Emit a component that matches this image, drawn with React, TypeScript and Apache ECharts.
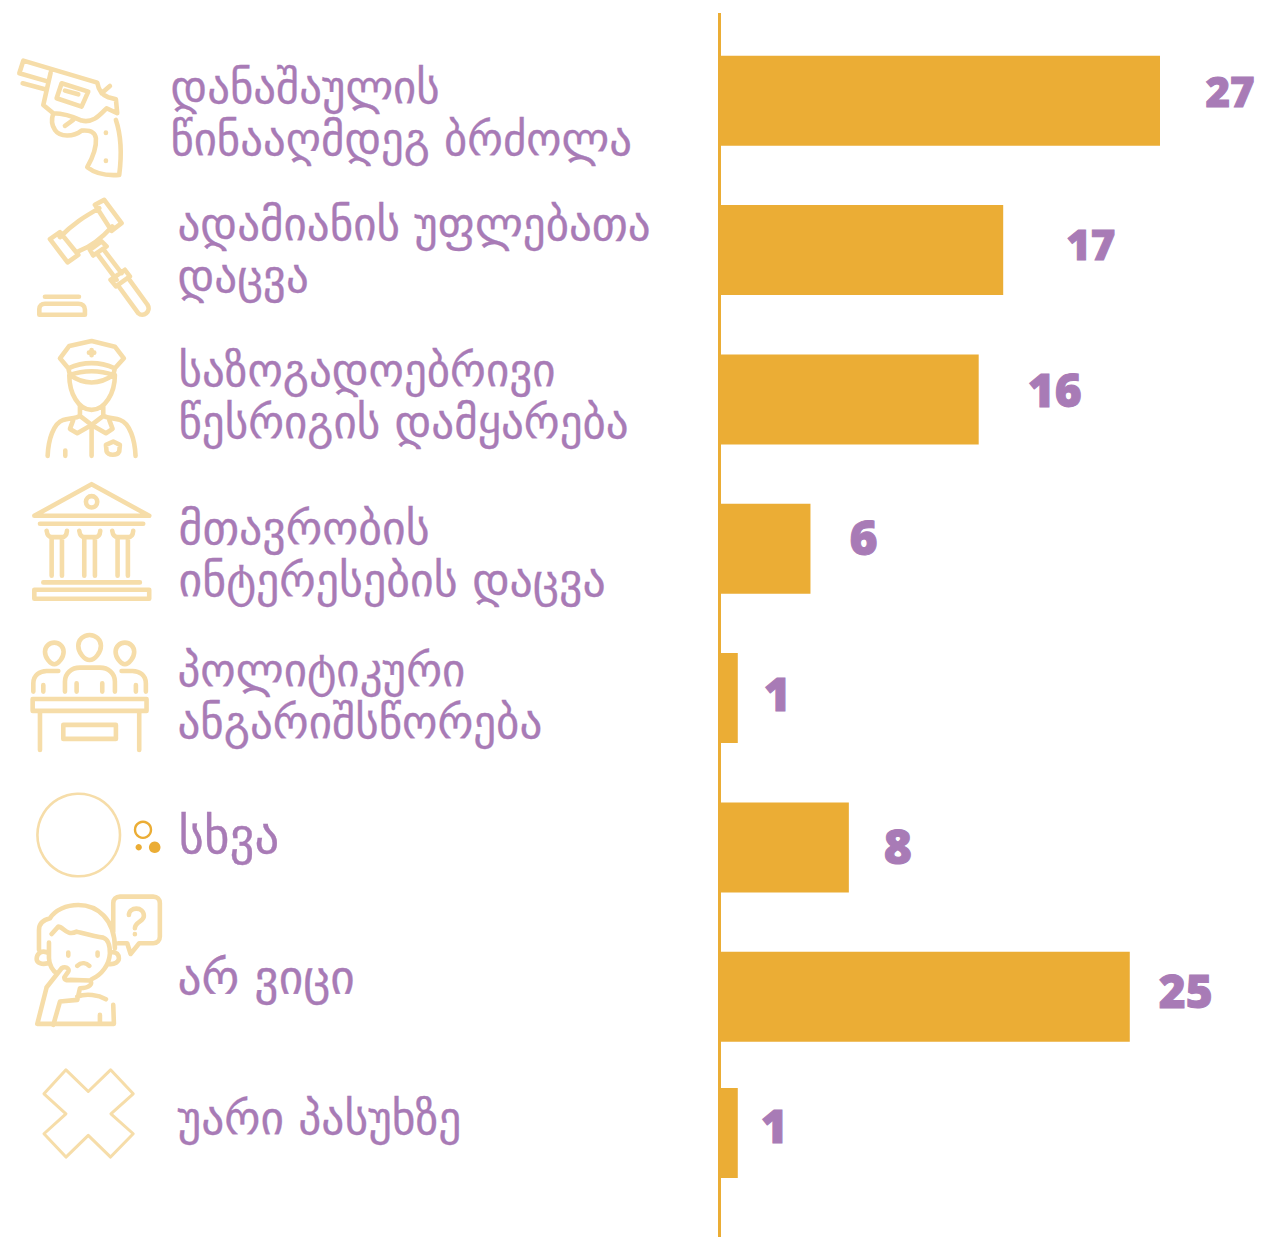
import React, { useEffect, useRef } from "react";
import * as echarts from "echarts";

const categories = [
  "დანაშაულის\nწინააღმდეგ ბრძოლა",
  "ადამიანის უფლებათა\nდაცვა",
  "საზოგადოებრივი\nწესრიგის დამყარება",
  "მთავრობის\nინტერესების დაცვა",
  "პოლიტიკური\nანგარიშსწორება",
  "სხვა",
  "არ ვიცი",
  "უარი პასუხზე",
];
const barValues = [27, 17.4, 15.9, 5.6, 1.15, 7.95, 25.15, 1.15];
const valueLabels = ["27", "17", "16", "6", "1", "8", "25", "1"];

const BAR = "#EBAD35";
const PURPLE = "#A87BB6";
const ICON = "#F6DDA9";

// text placement and size, kept apart from the data
const labelX = [170.5, 177.5, 178.5, 178.5, 177.5, 178.5, 177.5, 177.5];
const labelY = [113, 250, 396, 554, 696, 836, 977, 1118];
const labelSize = [44.8, 45, 45, 45.8, 45, 48.8, 47.4, 45.4];
const valueSize = [42, 42, 46, 48, 46, 48, 46, 46];
const valueOffset: [number, number][] = [
  [45.5, -10], [63, -7], [49, -10], [39, -12], [26, -5], [35, -2], [29, -7], [23, -8],
];

const ICON_PATHS: Record<string, string> = {
  gun: "M28,70 L40,32 L262,98 C265,115 275,135 295,142 L318,148 L322,190 L290,175 C270,195 250,220 215,212 C190,200 160,190 130,190 L100,165 L122,68 M38,100 L105,118 M28,70 L115,95 M155,100 L235,125 L215,170 L140,145 Z M165,122 L205,133 M275,130 L300,108 M318,210 C335,260 335,320 328,375 C290,378 255,370 232,352 C250,320 260,290 258,265 C255,245 240,240 215,242 C190,262 150,262 135,240 C122,222 125,205 130,190 M165,228 L190,210 M288,248 L288,249 M288,332 L288,333",
  gavel: "M150,562 C190,520 225,500 268,475 M205,605 C245,590 280,560 307,530 M120,568 L150,547 L205,615 L173,638 Z M255,465 L283,450 L335,520 L305,543 Z M240,600 L275,575 L290,590 L250,617 Z M262,612 L320,690 M280,598 L335,670 M302,690 L345,660 L360,680 L318,710 Z M325,708 L385,790 C400,805 425,785 413,765 L355,685 M105,741 L207,741 M88,795 L88,778 C88,768 95,762 105,762 L205,762 C218,762 225,770 225,780 L225,795 Z",
  officer: "M215,33 L285,50 L312,85 L285,115 C240,95 190,95 145,115 L120,85 L148,48 Z M215,60 L215,76 M207,68 L223,68 M145,115 L150,135 C190,165 240,165 280,135 L285,115 M150,135 C190,120 240,120 280,135 M148,135 C148,190 175,240 215,240 C255,240 285,190 285,135 M180,228 L180,258 C170,265 150,265 130,270 C100,280 85,330 83,378 M250,228 L250,258 C265,265 285,265 300,270 C330,280 345,330 347,378 M180,258 L215,285 L250,258 M160,270 L150,297 L172,310 L215,285 L258,310 L278,297 L268,270 M215,285 L215,378 M136,362 L136,378 M258,345 L280,335 L300,345 L298,365 C292,378 265,378 260,365 Z",
  bank: "M215,463 L388,558 L43,558 Z M198,516 A17,17 0 1,0 232,516 A17,17 0 1,0 198,516 Z M60,582 L370,582 M80,603 C82,618 90,622 95,622 L125,622 C132,622 140,618 141,603 M95,622 L95,738 M126,622 L126,738 M178,603 C180,618 188,622 193,622 L225,622 C232,622 240,618 241,603 M193,622 L193,738 M225,622 L225,738 M277,603 C279,618 287,622 293,622 L324,622 C331,622 339,618 340,603 M293,622 L293,738 M324,622 L324,738 M70,758 L360,758 M43,780 L388,780 L388,807 L43,807 Z",
  jury: "M209,30 C228,30 243,45 243,62 C243,82 225,105 209,105 C193,105 175,82 175,62 C175,45 190,30 209,30 Z M103,53 C118,53 131,65 131,80 C131,98 115,118 103,118 C91,118 75,98 75,80 C75,65 88,53 103,53 Z M315,53 C330,53 343,65 343,80 C343,98 327,118 315,118 C303,118 287,98 287,80 C287,65 300,53 315,53 Z M135,200 L135,170 C135,145 155,128 180,128 L240,128 C265,128 285,145 285,170 L285,200 M170,175 L170,200 M247,175 L247,200 M40,200 L40,175 C40,150 60,138 80,138 L115,138 M70,180 L70,200 M378,200 L378,175 C378,150 358,138 338,138 L305,138 M348,180 L348,200 M38,222 L380,222 L380,258 L38,258 Z M60,258 L60,375 M358,258 L358,375 M130,300 L288,300 L288,342 L130,342 Z",
  think: "M280,125 L280,40 C280,28 288,20 300,20 L400,20 C412,20 420,28 420,40 L420,140 C420,152 412,160 400,160 L358,160 L332,192 L322,160 L295,160 M327,75 C327,50 372,48 372,78 C372,95 345,95 345,115 M345,132 L345,133 M57,180 L57,120 C57,100 70,90 90,85 C105,60 140,45 175,45 C230,45 285,85 285,175 M95,132 L115,110 C130,110 140,140 170,125 C190,130 225,140 250,143 C265,148 270,165 270,190 C268,225 245,255 215,268 M145,188 L145,197 M233,188 L233,197 M172,228 C185,215 200,220 208,228 M80,187 C60,180 50,195 50,207 C50,218 65,225 83,220 M275,187 C290,185 297,195 297,205 C297,215 285,225 265,222 M87,158 L87,205 C87,225 100,245 110,250 M80,292 L125,235 C135,228 150,235 145,245 L133,262 C133,270 140,272 150,270 L210,272 C220,280 210,295 180,295 L172,330 L120,335 L100,405 M80,292 L52,402 L282,402 L280,345 M172,320 C200,310 235,315 258,328 M240,375 L240,400",
  cross: "M138,540 L205,605 L272,540 L340,612 L273,672 L340,732 L272,802 L205,737 L138,802 L72,732 L138,672 L72,612 Z",
};
Object.keys(ICON_PATHS).forEach((k) => {
  echarts.graphic.registerShape("ic_" + k, echarts.graphic.extendPath(ICON_PATHS[k] as any, {}) as any);
});

const iconEl = (name: string, x: number, y: number, lw = 4.6) => ({
  type: "ic_" + name,
  x,
  y,
  scaleX: 1 / 3,
  scaleY: 1 / 3,
  style: { fill: "none", stroke: ICON, lineWidth: lw, strokeNoScale: true, lineCap: "round", lineJoin: "round" },
});

const barData = (from: number, to: number) =>
  barValues.slice(from, to).map((v, i) => ({
    value: v,
    label: {
      formatter: valueLabels[from + i],
      offset: valueOffset[from + i],
      fontSize: valueSize[from + i],
    },
  }));

const barSeries = (idx: number, from: number, to: number) => ({
  type: "bar",
  xAxisIndex: idx,
  yAxisIndex: idx,
  data: barData(from, to),
  barWidth: 90,
  itemStyle: { color: BAR },
  label: {
    show: true,
    position: "right",
    distance: 0,
    fontFamily: "Open Sans",
    fontWeight: 800,
    color: PURPLE,
    textBorderColor: PURPLE,
    textBorderWidth: 1,
  },
});

const xAxisOf = (gridIndex: number) => ({
  type: "value",
  gridIndex,
  min: 0,
  max: 30,
  show: false,
});
const yAxisOf = (gridIndex: number, from: number, to: number) => ({
  type: "category",
  gridIndex,
  inverse: true,
  data: categories.slice(from, to),
  axisLabel: { show: false },
  axisTick: { show: false },
  axisLine: { show: false },
});

export default function App() {
  const ref = useRef<HTMLDivElement>(null);
  useEffect(() => {
    const chart = echarts.init(ref.current!, null, { renderer: "svg" });
    chart.setOption({
      animation: false,
      backgroundColor: "#fff",
      grid: [
        { left: 719, width: 490, top: 26.1, height: 1045.33 },
        { left: 719, width: 490, top: 1065, height: 136 },
      ],
      xAxis: [xAxisOf(0), xAxisOf(1)],
      yAxis: [yAxisOf(0, 0, 7), yAxisOf(1, 7, 8)],
      series: [barSeries(0, 0, 7), barSeries(1, 7, 8)],
      graphic: [
        { type: "line", shape: { x1: 719.5, y1: 13, x2: 719.5, y2: 1237 }, style: { stroke: BAR, lineWidth: 3 }, z: 10 },
        ...categories.map((text, i) => ({
          type: "text",
          x: labelX[i],
          y: labelY[i],
          style: {
            text,
            font: `${labelSize[i]}px "DejaVu Sans"`,
            lineHeight: 52,
            fill: PURPLE,
            stroke: PURPLE,
            lineWidth: 0.3,
            verticalAlign: "middle",
            align: "left",
          },
        })),
        iconEl("gun", 10, 50),
        iconEl("gavel", 10, 50),
        iconEl("officer", 20, 330),
        iconEl("bank", 20, 330),
        iconEl("jury", 20, 625),
        iconEl("think", 20, 890),
        iconEl("cross", 20, 890, 3),
        { type: "circle", shape: { cx: 78.7, cy: 835, r: 41.3 }, style: { fill: "none", stroke: ICON, lineWidth: 2.6 } },
        { type: "circle", shape: { cx: 143, cy: 829.8, r: 8 }, style: { fill: "none", stroke: BAR, lineWidth: 2.4 } },
        { type: "circle", shape: { cx: 138.7, cy: 847.3, r: 3.2 }, style: { fill: BAR } },
        { type: "circle", shape: { cx: 154.7, cy: 847.3, r: 5.8 }, style: { fill: BAR } },
      ],
    });
    return () => chart.dispose();
  }, []);
  return <div ref={ref} style={{ width: 1268, height: 1241, position: "absolute", left: 0, top: 0 }} />;
}
